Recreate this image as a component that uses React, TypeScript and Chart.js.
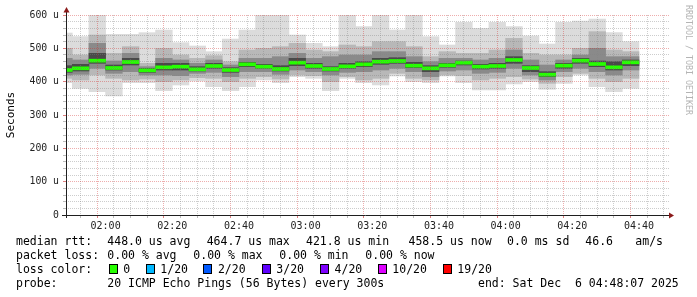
import React, { useEffect, useRef } from "react";
import { Chart, registerables } from "chart.js";

Chart.register(...registerables);

// ---- data (microseconds) ----
const startTime = "01:48:07";
// end of each 5-minute step
const intervalEnds = [
  "01:50", "01:55", "02:00", "02:05", "02:10", "02:15", "02:20", "02:25", "02:30", "02:35",
  "02:40", "02:45", "02:50", "02:55", "03:00", "03:05", "03:10", "03:15", "03:20", "03:25",
  "03:30", "03:35", "03:40", "03:45", "03:50", "03:55", "04:00", "04:05", "04:10", "04:15",
  "04:20", "04:25", "04:30", "04:35", "04:40",
];
const medianRtt = [
  435, 440, 463, 441, 459, 434, 443, 445, 437, 447,
  435, 452, 445, 438, 457, 447, 438, 446, 452, 460,
  462, 448, 440, 449, 457, 445, 447, 465, 441, 421,
  448, 463, 453, 443, 458,
];
const smokeMax = [
  546, 535, 600, 542, 542, 547, 555, 517, 507, 490,
  528, 555, 600, 600, 540, 515, 505, 600, 565, 600,
  555, 600, 535, 510, 578, 560, 578, 565, 537, 513,
  578, 582, 588, 547, 520,
];
const smokeHiMid = [
  500, 480, 540, 485, 505, 455, 500, 480, 470, 478,
  460, 495, 500, 505, 515, 495, 490, 510, 505, 520,
  520, 505, 475, 490, 485, 485, 495, 530, 485, 480,
  480, 500, 550, 495, 490,
];
const smokeHiIn = [
  470, 465, 515, 462, 485, 445, 470, 465, 455, 465,
  450, 470, 470, 475, 485, 470, 475, 480, 480, 490,
  490, 475, 460, 470, 470, 465, 470, 495, 465, 450,
  465, 480, 500, 475, 475,
];
const smokeHiCore = [
  448, 452, 485, 450, 470, 440, 455, 455, 445, 455,
  442, 458, 452, 448, 470, 455, 445, 455, 460, 470,
  472, 458, 448, 455, 462, 452, 455, 475, 448, 430,
  455, 470, 462, 460, 465,
];
const smokeLoCore = [
  428, 432, 455, 435, 450, 428, 435, 435, 432, 440,
  428, 445, 440, 432, 448, 440, 432, 440, 445, 452,
  455, 442, 430, 443, 450, 438, 440, 455, 430, 415,
  440, 455, 445, 435, 448,
];
const smokeLoIn = [
  420, 422, 440, 425, 430, 420, 420, 418, 425, 428,
  415, 430, 430, 422, 435, 430, 420, 428, 430, 435,
  440, 430, 415, 432, 435, 425, 428, 440, 420, 405,
  430, 440, 430, 420, 435,
];
const smokeLoMid = [
  410, 405, 420, 410, 405, 408, 400, 405, 412, 410,
  400, 410, 415, 408, 420, 418, 400, 415, 405, 410,
  425, 410, 405, 420, 418, 405, 410, 415, 408, 395,
  415, 425, 410, 400, 410,
];
const smokeMin = [
  397, 380, 370, 357, 397, 397, 373, 390, 402, 385,
  373, 385, 405, 397, 415, 410, 373, 410, 397, 390,
  417, 400, 397, 417, 397, 375, 375, 393, 400, 377,
  395, 420, 385, 370, 380,
];
const yTicks = [0, 100, 200, 300, 400, 500, 600];
const yTickLabels = ["0", "100 u", "200 u", "300 u", "400 u", "500 u", "600 u"];
const xMajorLabels = ["02:00", "02:20", "02:40", "03:00", "03:20", "03:40", "04:00", "04:20", "04:40"];

const legendLines = [
  [
    ["median rtt:", 16], ["448.0 us avg", 107.3], ["464.7 us max", 206.7], ["421.8 us min", 306],
    ["458.5 us now", 408.5], ["0.0 ms sd", 507], ["46.6", 585.3], ["am/s", 635.3],
  ],
  [
    ["packet loss:", 16], ["0.00 % avg", 107.3], ["0.00 % max", 193.3], ["0.00 % min", 279.3],
    ["0.00 % now", 365.3],
  ],
  [["loss color:", 16]],
  [["probe:", 16], ["20 ICMP Echo Pings (56 Bytes) every 300s", 107.3], ["end: Sat Dec  6 04:48:07 2025", 478]],
];
const lossLabels = ["0", "1/20", "2/20", "3/20", "4/20", "10/20", "19/20"];
const lossColors = ["#26ff00", "#00b8ff", "#0059ff", "#5e00ff", "#7e00ff", "#dd00ff", "#ff0000"];
const lossBoxX = [108.7, 145.7, 203.3, 261.7, 320, 377.7, 442.7];

// ---- helpers ----
const toMin = (s: string) => {
  const p = s.split(":").map(Number);
  return p[0] * 60 + p[1] + (p[2] || 0) / 60;
};
const fmt = (m: number) => {
  const h = Math.floor(m / 60);
  const mm = Math.round(m % 60);
  return String(h).padStart(2, "0") + ":" + String(mm).padStart(2, "0");
};

const STEP = 5;
const MED_HALF = 4.5;
const PX_PER_MIN = 600 / 180;
const MONO = "'DejaVu Sans Mono', monospace";

export default function App() {
  const ref = useRef<HTMLCanvasElement | null>(null);

  useEffect(() => {
    const canvas = ref.current!;
    const xMin = toMin(startTime);
    const xMax = xMin + 603 / PX_PER_MIN;
    const centers = intervalEnds.map((t) => toMin(t) - STEP / 2);
    const band = (lo: number[], hi: number[]) => centers.map((x, i) => ({ x, y: [lo[i], hi[i]] }));
    const mk = (label: string, data: any, color: string, order: number) => ({
      label,
      data,
      backgroundColor: color,
      borderWidth: 0,
      grouped: false,
      barPercentage: 1,
      categoryPercentage: 1,
      order,
    });

    const firstTick = Math.ceil(xMin / STEP) * STEP;
    const xTickVals: number[] = [];
    for (let v = firstTick; v <= xMax; v += STEP) xTickVals.push(v);
    const majorSet = new Set(xMajorLabels.map(toMin));

    const overlay = {
      id: "rrdOverlay",
      afterDraw(chart: any) {
        const ctx = chart.ctx as CanvasRenderingContext2D;
        const { left, right, top, bottom } = chart.chartArea;
        ctx.save();
        ctx.setLineDash([]);
        // axes
        ctx.strokeStyle = "#1f1f1f";
        ctx.lineWidth = 1;
        ctx.beginPath();
        ctx.moveTo(left + 0.5, bottom + 3);
        ctx.lineTo(left + 0.5, top - 4);
        ctx.moveTo(left - 4, bottom + 0.5);
        ctx.lineTo(right, bottom + 0.5);
        ctx.stroke();
        ctx.fillStyle = "#8b1a1a";
        ctx.beginPath();
        ctx.moveTo(left + 0.5 - 3, top - 2.5);
        ctx.lineTo(left + 0.5 + 3, top - 2.5);
        ctx.lineTo(left + 0.5, top - 8);
        ctx.closePath();
        ctx.fill();
        ctx.beginPath();
        ctx.moveTo(right, bottom + 0.5 - 3);
        ctx.lineTo(right, bottom + 0.5 + 3);
        ctx.lineTo(right + 5, bottom + 0.5);
        ctx.closePath();
        ctx.fill();

        // y title
        ctx.fillStyle = "#000";
        ctx.font = `11px ${MONO}`;
        ctx.textAlign = "center";
        ctx.textBaseline = "middle";
        ctx.save();
        ctx.translate(10.8, (top + bottom) / 2);
        ctx.rotate(-Math.PI / 2);
        ctx.fillText("Seconds", 0, 0);
        ctx.restore();

        // watermark
        ctx.save();
        ctx.fillStyle = "#b4b4b4";
        ctx.font = `8.3px ${MONO}`;
        ctx.textAlign = "left";
        ctx.translate(688, 5);
        ctx.rotate(Math.PI / 2);
        ctx.fillText("RRDTOOL / TOBI OETIKER", 0, 0);
        ctx.restore();

        // legend
        ctx.fillStyle = "#000";
        ctx.font = `11.5px ${MONO}`;
        ctx.textAlign = "left";
        ctx.textBaseline = "alphabetic";
        const baselines = [244.7, 258.7, 272.7, 286.7];
        legendLines.forEach((line, li) => {
          line.forEach(([txt, x]) => ctx.fillText(txt as string, x as number, baselines[li]));
        });
        lossLabels.forEach((lab, i) => {
          const bx = Math.round(lossBoxX[i]) + 0.5;
          ctx.fillStyle = lossColors[i];
          ctx.fillRect(bx, 264.5, 8, 9);
          ctx.strokeStyle = "#000";
          ctx.strokeRect(bx, 264.5, 8, 9);
          ctx.fillStyle = "#000";
          ctx.fillText(lab, lossBoxX[i] + 14.6, baselines[2]);
        });
        ctx.restore();
      },
    };

    const minorGrid = "rgba(130,130,130,0.4)";
    const majorGrid = "rgba(210,40,40,0.38)";

    const chart = new Chart(canvas, {
      type: "bar",
      data: {
        datasets: [
          mk("median", band(medianRtt.map((m) => m - MED_HALF), medianRtt.map((m) => m + MED_HALF)), "#26ff00", 0),
          mk("core", band(smokeLoCore, smokeHiCore), "#4a4a4a", 1),
          mk("inner", band(smokeLoIn, smokeHiIn), "#8a8a8a", 2),
          mk("mid", band(smokeLoMid, smokeHiMid), "#b8b8b8", 3),
          mk("outer", band(smokeMin, smokeMax), "#dcdcdc", 4),
        ] as any,
      },
      options: {
        responsive: false,
        animation: false,
        devicePixelRatio: 1,
        layout: { padding: { left: 0, top: 15, right: 697 - 669, bottom: 0 } },
        plugins: { legend: { display: false }, tooltip: { enabled: false }, title: { display: false } },
        scales: {
          x: {
            type: "linear",
            min: xMin,
            max: xMax,
            offset: false,
            afterFit: (s: any) => {
              s.height = 297 - 215;
            },
            afterBuildTicks: (s: any) => {
              s.ticks = xTickVals.map((v) => ({ value: v }));
            },
            border: { display: false, dash: [1, 1] },
            grid: {
              z: 1,
              color: (c: any) => (majorSet.has(c.tick?.value) ? majorGrid : minorGrid),
              tickColor: (c: any) => (majorSet.has(c.tick?.value) ? "rgba(200,40,40,0.6)" : "rgba(120,120,120,0.5)"),
              tickBorderDash: [],
              tickLength: 3,
              lineWidth: 1,
            } as any,
            ticks: {
              autoSkip: false,
              maxRotation: 0,
              padding: 2,
              color: "#222",
              font: { family: MONO, size: 10 },
              callback: (v: any) => (majorSet.has(Number(v)) ? fmt(Number(v)) : ""),
            },
          },
          y: {
            type: "linear",
            min: 0,
            max: 600,
            afterFit: (s: any) => {
              s.width = 66;
            },
            border: { display: false, dash: [1, 1] },
            grid: {
              z: 1,
              color: (c: any) => (yTicks.includes(c.tick?.value) ? majorGrid : minorGrid),
              tickColor: (c: any) => (yTicks.includes(c.tick?.value) ? "rgba(200,40,40,0.6)" : "rgba(120,120,120,0.5)"),
              tickBorderDash: [],
              tickLength: 3,
              lineWidth: 1,
            } as any,
            ticks: {
              stepSize: 20,
              autoSkip: false,
              padding: 4,
              color: "#222",
              font: { family: MONO, size: 9.8 },
              callback: (v: any) => {
                const i = yTicks.indexOf(Number(v));
                return i >= 0 ? yTickLabels[i] : "";
              },
            },
          },
        },
      },
      plugins: [overlay],
    } as any);

    return () => chart.destroy();
  }, []);

  return (
    <div style={{ position: "fixed", left: 0, top: 0, width: 697, height: 297, background: "#fff" }}>
      <canvas ref={ref} width={697} height={297} style={{ display: "block", width: 697, height: 297 }} />
    </div>
  );
}
